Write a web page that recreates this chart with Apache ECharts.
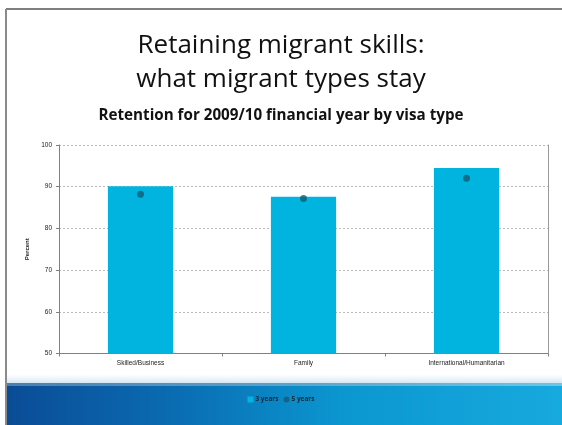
<!DOCTYPE html>
<html>
<head>
<meta charset="utf-8">
<script src="https://cdn.jsdelivr.net/npm/echarts@6/dist/echarts.min.js"></script>
<style>html,body{margin:0;padding:0;background:#fff}#c{width:562px;height:425px}</style>
</head>
<body>
<div id="c"></div>
<script>
const categories = ['Skilled/Business', 'Family', 'International/Humanitarian'];
const threeYears = [90.1, 87.6, 94.5];
const fiveYears = [88.2, 87.2, 92.0];
const yTicks = [50, 60, 70, 80, 90, 100];

const chart = echarts.init(document.getElementById('c'));
chart.setOption({
  backgroundColor: '#ffffff',
  animation: false,
  title: [
    { text: 'Retaining migrant skills:\nwhat migrant types stay', left: 'center', top: 24,
      textStyle: { fontFamily: 'Open Sans', fontWeight: 'normal', fontSize: 26, color: '#111', lineHeight: 34 } },
    { text: 'Retention for 2009/10 financial year by visa type', left: 'center', top: 103,
      textStyle: { fontFamily: 'Open Sans', fontWeight: 'bold', fontSize: 15.2, color: '#111' } }
  ],
  graphic: [
    { type: 'rect', z: -10, shape: { x: 7, y: 383, width: 555, height: 42 },
      style: { fill: new echarts.graphic.LinearGradient(0, 0, 1, 0, [
        { offset: 0, color: '#0a4c96' }, { offset: 0.3, color: '#0a6cb2' },
        { offset: 0.6, color: '#0b96d0' }, { offset: 1, color: '#17aade' }]) } },
    { type: 'rect', z: -9, shape: { x: 7, y: 383, width: 555, height: 3 },
      style: { fill: new echarts.graphic.LinearGradient(0, 0, 1, 0, [
        { offset: 0, color: '#4a7fb0' }, { offset: 1, color: '#6cc6e6' }]) } },
    { type: 'rect', z: -9, shape: { x: 7, y: 374, width: 555, height: 9 },
      style: { fill: new echarts.graphic.LinearGradient(0, 0, 0, 1, [
        { offset: 0, color: 'rgba(220,235,245,0)' }, { offset: 1, color: 'rgba(200,225,240,0.8)' }]) } },
    { type: 'line', z: 5, shape: { x1: 6, y1: 9, x2: 562, y2: 9 }, style: { stroke: '#555', lineWidth: 1.5 } },
    { type: 'line', z: 5, shape: { x1: 6, y1: 9, x2: 6, y2: 425 }, style: { stroke: '#8a8a8a', lineWidth: 2 } }
  ],
  legend: {
    bottom: 17, left: 'center', z: 20,
    itemWidth: 6, itemHeight: 6, itemGap: 5,
    textStyle: { fontFamily: 'Open Sans', fontWeight: 'bold', fontSize: 6.5, color: '#1a2a3a', padding: [0, 0, 0, -3] },
    data: [{ name: '3 years', icon: 'rect' }, { name: '5 years', icon: 'circle' }]
  },
  grid: { left: 59, right: 14, top: 145, bottom: 71.5 },
  xAxis: {
    type: 'category', data: categories,
    axisLine: { lineStyle: { color: '#808080', width: 1 } },
    axisTick: { show: true, length: 3, lineStyle: { color: '#808080' } },
    axisLabel: { fontFamily: 'Liberation Sans', fontSize: 6.5, color: '#222', margin: 6 }
  },
  yAxis: [{
    type: 'value', min: yTicks[0], max: yTicks[yTicks.length - 1], interval: 10,
    name: 'Percent', nameLocation: 'middle', nameGap: 24, nameRotate: 90,
    nameTextStyle: { fontFamily: 'Liberation Sans', fontSize: 6, fontWeight: 'bold', color: '#222' },
    axisLine: { show: true, lineStyle: { color: '#808080' } },
    axisTick: { show: true, length: 3, lineStyle: { color: '#808080' } },
    axisLabel: { fontFamily: 'Liberation Sans', fontSize: 6.5, color: '#222', margin: 7 },
    splitLine: { lineStyle: { color: '#bbbbbb', type: [2, 2], width: 1 } }
  }, {
    type: 'value', position: 'right', min: 50, max: 100, interval: 10,
    axisLine: { show: true, lineStyle: { color: '#9a9a9a' } },
    axisTick: { show: false }, axisLabel: { show: false }, splitLine: { show: false }
  }],
  series: [
    { name: '3 years', type: 'bar', data: threeYears, barWidth: '40%',
      itemStyle: { color: '#00b4e0' } },
    { name: '5 years', type: 'scatter', data: fiveYears, symbol: 'circle', symbolSize: 7,
      itemStyle: { color: '#0f5e72' }, z: 5 }
  ]
});
</script>
</body>
</html>
